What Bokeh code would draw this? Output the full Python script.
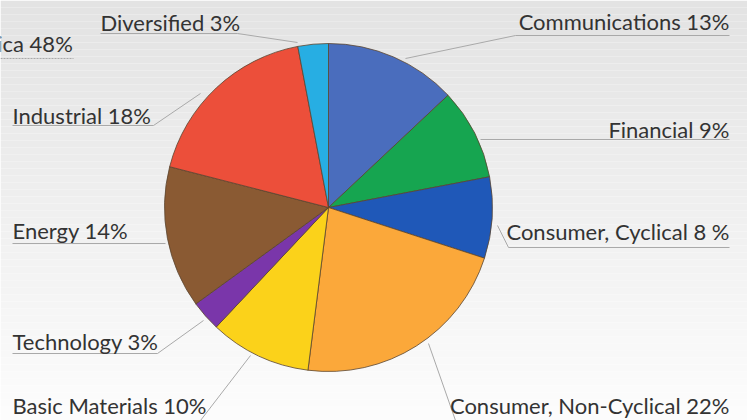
import numpy as np
from bokeh.plotting import figure
from bokeh.models import Range1d, ColumnDataSource
from bokeh.core.properties import value
from bokeh.embed import file_html
from bokeh.resources import INLINE

# ---- data ----
sectors = ["Communications", "Financial", "Consumer, Cyclical", "Consumer, Non-Cyclical",
           "Basic Materials", "Technology", "Energy", "Industrial", "Diversified"]
shares = [13, 9, 8, 22, 10, 3, 14, 18, 3]
labels = ["Communications 13%", "Financial 9%", "Consumer, Cyclical 8 %", "Consumer, Non-Cyclical 22%",
          "Basic Materials 10%", "Technology 3%", "Energy 14%", "Industrial 18%", "Diversified 3%"]
colors = ["#4a6dbd", "#16a550", "#1f58b8", "#fba83a", "#fbd21a", "#7a36aa", "#8a5a33", "#ec4f3a", "#27aee3"]
region_label = "North America 48%"

W, H = 747, 420
CX, CY, R = 328, 207, 164  # image coords of pie centre
TXT_SHIFT = 7  # compensate renderer baseline offset


def Y(y):
    return H - y


p = figure(width=W, height=H, output_backend="svg", toolbar_location=None,
           x_range=Range1d(0, W), y_range=Range1d(0, H), min_border=0)
p.axis.visible = False
p.grid.visible = False
p.outline_line_color = None
p.background_fill_color = "#ffffff"
p.border_fill_color = "#ffffff"

# background vertical gradient (grey top -> white bottom)
n = 60
edges = np.linspace(0, H, n + 1)
top_c = np.array([0xe3, 0xe3, 0xe3])
bot_c = np.array([0xfd, 0xfd, 0xfd])
cols = []
for i in range(n):
    t = (i + 0.5) / n
    c = (top_c * (1 - t) + bot_c * t).astype(int)
    cols.append("#%02x%02x%02x" % tuple(c))
p.quad(left=0, right=W, top=[Y(e) for e in edges[:-1]], bottom=[Y(e) for e in edges[1:]],
       fill_color=cols, line_color=None)

# pie
frac = np.array(shares) / sum(shares)
cum = np.concatenate([[0], np.cumsum(frac)])
start = np.pi / 2 - 2 * np.pi * cum[:-1]
end = np.pi / 2 - 2 * np.pi * cum[1:]
src = ColumnDataSource(dict(start=start, end=end, color=colors, sector=sectors))
p.wedge(x=CX, y=Y(CY), radius=R, start_angle="start", end_angle="end", direction="clock",
        fill_color="color", line_color="#5a4530", line_width=0.8, source=src)

# ---- label layout (image coords) ----
lab_x = [729, 729, 729, 729, 12, 12, 12, 12, 100]
lab_y = [28, 136, 238, 412, 412, 348, 237, 122, 29]
lab_align = ["right", "right", "right", "right", "left", "left", "left", "left", "left"]
ul_x0 = [515, 480, 508, None, None, 12, 12, 12, 100]
ul_x1 = [729, 729, 729, None, None, 157, 165, 153, 237]
ul_y = [35, 139, 247, None, None, 353, 243, 125, 33]
ld = [((515, 35), (405, 58)), None, ((508, 247), (497, 225)), ((455, 420), (428, 343)),
      ((200, 420), (250, 355)), ((157, 353), (203, 320)), None, ((153, 125), (200, 93)),
      ((237, 33), (297, 42))]

line_col = "#a9a9a9"
for i in range(len(labels)):
    if ul_x0[i] is not None:
        p.line([ul_x0[i], ul_x1[i]], [Y(ul_y[i]), Y(ul_y[i])], line_color=line_col, line_width=1)
    if ld[i] is not None:
        (x0, y0), (x1, y1) = ld[i]
        p.line([x0, x1], [Y(y0), Y(y1)], line_color=line_col, line_width=1)

p.text(x=lab_x, y=[Y(v - TXT_SHIFT) for v in lab_y], text=labels, text_align=lab_align,
       text_baseline="alphabetic", text_font=value("Lato"), text_font_size="22px",
       text_color="#333333")

# region label (partly off-canvas)
p.line([0, 73], [Y(58), Y(58)], line_color=line_col, line_width=1, line_dash="2 1")
p.text(x=[73], y=[Y(50 - TXT_SHIFT)], text=[region_label], text_align="right", text_baseline="alphabetic",
       text_font=value("Lato"), text_font_size="22px", text_color="#333333")

open("out.html", "w").write(file_html(p, INLINE))
